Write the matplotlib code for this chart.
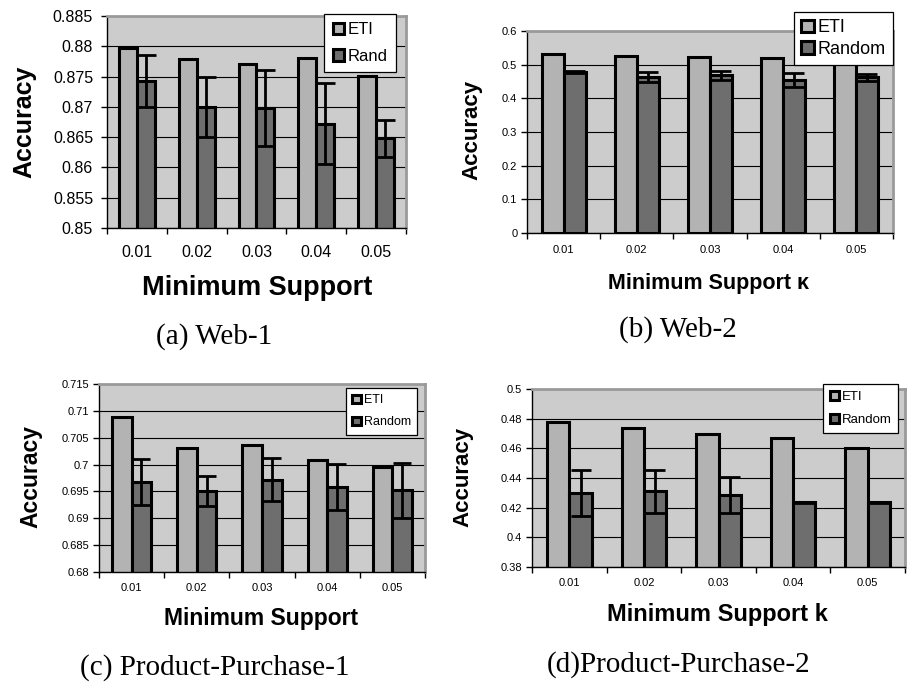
import numpy as np
import matplotlib
matplotlib.use('Agg')
import matplotlib.pyplot as plt

# --- Data ---
support_labels = ['0.01', '0.02', '0.03', '0.04', '0.05']

web1_eti = [0.8797, 0.8779, 0.8770, 0.8780, 0.8751]
web1_rand = [0.8743, 0.8700, 0.8698, 0.8672, 0.8648]
web1_err = [0.0043, 0.0050, 0.0063, 0.0067, 0.0030]

web2_eti = [0.531, 0.527, 0.524, 0.521, 0.515]
web2_rand = [0.478, 0.462, 0.468, 0.454, 0.462]
web2_err = [0.004, 0.015, 0.013, 0.021, 0.010]

pp1_eti = [0.7089, 0.7030, 0.7036, 0.7008, 0.6995]
pp1_rand = [0.6967, 0.6951, 0.6972, 0.6958, 0.6952]
pp1_err = [0.0043, 0.0028, 0.0040, 0.0043, 0.0051]

pp2_eti = [0.4779, 0.4738, 0.4698, 0.4668, 0.4603]
pp2_rand = [0.4298, 0.4310, 0.4285, 0.4238, 0.4238]
pp2_err = [0.0155, 0.0143, 0.0120, 0.0003, 0.0003]

# --- Style ---
plt.rcParams['font.family'] = ['Liberation Sans', 'DejaVu Sans']
bg_color = '#cccccc'
eti_color = '#b3b3b3'
rand_color = '#6e6e6e'
edge_lw = 2.2
bar_w = 0.3


def draw_panel(ax, eti, rand, err, rand_name, ylim, yticks, ytick_fmt,
               tick_fs, ylabel, ylabel_fs, ylabel_xy, xlabel, xlabel_fs,
               xlabel_xy, leg_fs, leg_anchor, leg_spacing, capsize,
               xpad=8, ypad=3, leg_pad=0.5):
    x = np.arange(len(support_labels))
    ax.set_facecolor(bg_color)
    ax.set_axisbelow(True)
    ax.yaxis.grid(True, color='black', linewidth=0.8)

    b1 = ax.bar(x - bar_w / 2, eti, bar_w, color=eti_color,
                edgecolor='black', linewidth=edge_lw, label='ETI', zorder=2)
    b2 = ax.bar(x + bar_w / 2, rand, bar_w, color=rand_color,
                edgecolor='black', linewidth=edge_lw, label=rand_name, zorder=2)
    ax.errorbar(x + bar_w / 2, rand, yerr=err, fmt='none', ecolor='black',
                elinewidth=2.0, capsize=capsize, capthick=2.0, zorder=3)

    ax.set_xlim(-0.5, len(support_labels) - 0.5)
    ax.set_ylim(*ylim)
    ax.set_yticks(yticks)
    ax.set_yticklabels([ytick_fmt(v) for v in yticks], fontsize=tick_fs)
    ax.set_xticks(x)
    ax.set_xticklabels(support_labels, fontsize=tick_fs)
    ax.set_xticks(np.arange(len(support_labels) + 1) - 0.5, minor=True)
    ax.tick_params(axis='x', which='major', length=0, pad=xpad)
    ax.tick_params(axis='x', which='minor', length=4, width=1, direction='out')
    ax.tick_params(axis='y', length=4, width=1, direction='out', pad=ypad)

    for side in ['top', 'right']:
        ax.spines[side].set_color('#9a9a9a')
        ax.spines[side].set_linewidth(2.0)
    for side in ['left', 'bottom']:
        ax.spines[side].set_color('black')
        ax.spines[side].set_linewidth(1.0)

    ax.set_ylabel(ylabel, fontsize=ylabel_fs, fontweight='bold', va='center')
    ax.yaxis.set_label_coords(*ylabel_xy)
    ax.set_xlabel(xlabel, fontsize=xlabel_fs, fontweight='bold', va='center')
    ax.xaxis.set_label_coords(*xlabel_xy)

    leg = ax.legend(handles=[b1, b2], loc='upper right',
                    bbox_to_anchor=leg_anchor,
                    bbox_transform=ax.figure.transFigure,
                    fontsize=leg_fs, frameon=True, fancybox=False,
                    edgecolor='black', framealpha=1.0, borderaxespad=0,
                    handlelength=0.7, handleheight=0.7, handletextpad=0.2,
                    labelspacing=leg_spacing, borderpad=leg_pad)
    leg.get_frame().set_linewidth(0.9)
    leg.set_zorder(5)


fig = plt.figure(figsize=(9.09, 6.83), dpi=100)
fig.patch.set_facecolor('white')

ax_a = fig.add_axes([0.1177, 0.6662, 0.3289, 0.3104])
ax_b = fig.add_axes([0.5798, 0.6589, 0.4026, 0.2958])
ax_c = fig.add_axes([0.1089, 0.1625, 0.3586, 0.2753])
ax_d = fig.add_axes([0.5853, 0.1698, 0.4103, 0.2606])

draw_panel(ax_a, web1_eti, web1_rand, web1_err, 'Rand',
           (0.85, 0.885), np.arange(0.85, 0.8851, 0.005),
           lambda v: f'{v:.3f}'.rstrip('0').rstrip('.'), 11.5,
           'Accuracy', 18, (-0.278, 0.5),
           'Minimum Support', 19.5, (0.502, -0.283),
           12, (0.4356, 0.9795), 0.7, 7, xpad=12, ypad=6)

draw_panel(ax_b, web2_eti, web2_rand, web2_err, 'Random',
           (0, 0.6), np.arange(0, 0.61, 0.1),
           lambda v: f'{v:.1f}'.rstrip('0').rstrip('.') if v else '0', 8,
           'Accuracy', 16, (-0.150, 0.51),
           'Minimum Support \u03ba', 15.5, (0.495, -0.248),
           13, (0.9824, 0.9824), 0.25, 7, xpad=9, leg_pad=0.4)

draw_panel(ax_c, pp1_eti, pp1_rand, pp1_err, 'Random',
           (0.68, 0.715), np.arange(0.68, 0.7151, 0.005),
           lambda v: f'{v:.3f}'.rstrip('0').rstrip('.'), 8,
           'Accuracy', 16.5, (-0.209, 0.51),
           'Minimum Support', 16.5, (0.497, -0.245),
           9, (0.4587, 0.4319), 0.8, 6.5)

draw_panel(ax_d, pp2_eti, pp2_rand, pp2_err, 'Random',
           (0.38, 0.5), np.arange(0.38, 0.501, 0.02),
           lambda v: f'{v:.2f}'.rstrip('0').rstrip('.'), 8,
           'Accuracy', 16, (-0.185, 0.506),
           'Minimum Support k', 17, (0.496, -0.264),
           9.5, (0.9879, 0.4378), 0.85, 7.5)

# --- Panel captions ---
cap_kw = dict(fontsize=21, family=['Liberation Serif', 'DejaVu Serif'],
              ha='center', va='center')
fig.text(0.2354, 0.5066, '(a) Web-1', **cap_kw)
fig.text(0.7459, 0.5168, '(b) Web-2', **cap_kw)
fig.text(0.2365, 0.0220, '(c) Product-Purchase-1', **cap_kw)
fig.text(0.7470, 0.0264, '(d)Product-Purchase-2', **cap_kw)

fig.savefig('out.png', dpi=100)
